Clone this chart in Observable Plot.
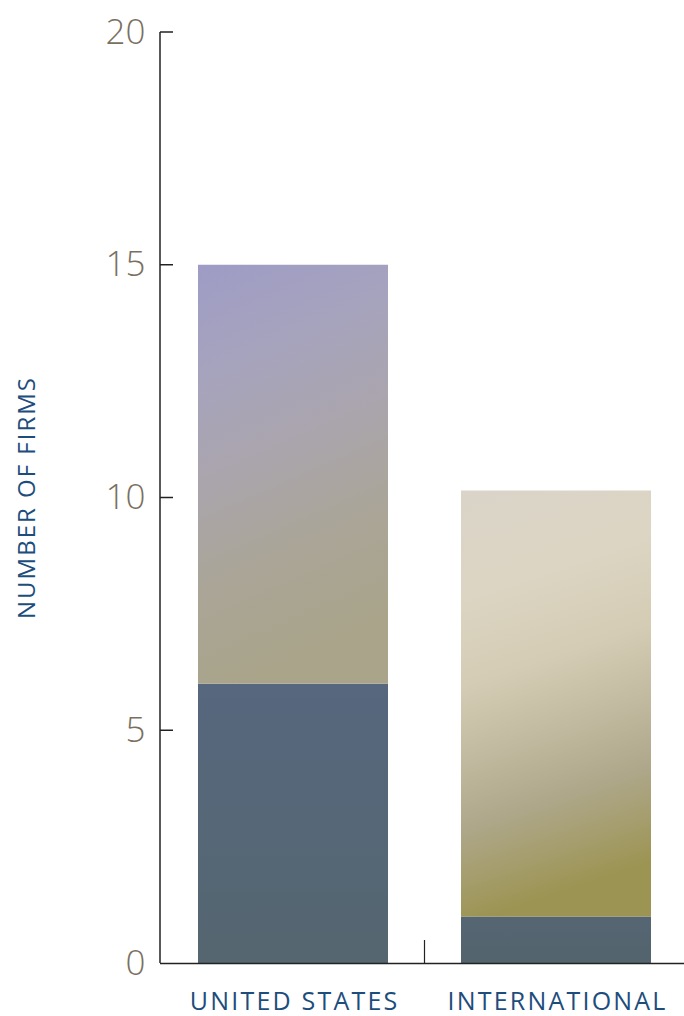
<!DOCTYPE html>
<html>
<head>
<meta charset="utf-8">
<script src="https://cdn.jsdelivr.net/npm/d3@7"></script>
<script src="https://cdn.jsdelivr.net/npm/@observablehq/plot@0.6"></script>
<style>
  html, body { margin: 0; padding: 0; background: #fff; }
  #chart { width: 684px; height: 1016px; }
</style>
</head>
<body>
<div id="chart"></div>
<script>
// ---- data ----
const categories = ["UNITED STATES", "INTERNATIONAL"];
const lowerValues = [6, 1];
const upperValues = [9, 9.15];
const yTicks = [0, 5, 10, 15, 20];
const yLabel = "NUMBER OF FIRMS";

// gradient ids per segment (style only)
const lowerFill = ["url(#gLowUS)", "url(#gLowIntl)"];
const upperFill = ["url(#gUpUS)", "url(#gUpIntl)"];

const rows = [];
categories.forEach((c, i) => {
  rows.push({country: c, segment: "lower", value: lowerValues[i], fill: lowerFill[i]});
  rows.push({country: c, segment: "upper", value: upperValues[i], fill: upperFill[i]});
});

const blue = "#1d4d7c";
const gray = "#7b6f61";

const plot = Plot.plot({
  width: 684,
  height: 1016,
  marginLeft: 160,
  marginRight: 0,
  marginTop: 32,
  marginBottom: 53,
  style: {fontFamily: "'Open Sans', sans-serif", background: "#fff", overflow: "visible"},
  x: {domain: categories, paddingInner: 0.277, paddingOuter: 0.131, align: 0.54, label: null},
  y: {domain: [0, 20], ticks: yTicks, label: null},
  color: {type: "identity"},
  marks: [
    Plot.barY(rows, {x: "country", y: "value", fill: "fill"}),
    Plot.ruleY([0], {stroke: "#222", strokeWidth: 1.5}),
    Plot.axisY({ticks: yTicks, tickSize: 0, tickPadding: 15, fontSize: 35, fill: gray, fontWeight: 300, label: null}),
    Plot.axisX({tickSize: 0, tickPadding: 29, fontSize: 25, fill: blue, label: null})
  ]
});

document.getElementById("chart").appendChild(plot);

// ---- decorations via the plot's scales ----
const svg = d3.select(plot.tagName.toLowerCase() === "svg" ? plot : plot.querySelector("svg"));
const xs = plot.scale("x");
const ys = plot.scale("y");
const y0 = ys.apply(0), yTop = ys.apply(d3.max(yTicks));
const xLeft = 160;

// widen x tick labels like the original geometric sans
svg.selectAll("[aria-label='x-axis tick label'] text")
  .style("letter-spacing", "2.2px").attr("dx", "1.1");

const defs = svg.insert("defs", ":first-child");
function grad(id, x2, y2, stops) {
  const g = defs.append("linearGradient").attr("id", id)
    .attr("x1", 0).attr("y1", 0).attr("x2", x2).attr("y2", y2);
  stops.forEach(([o, c]) => g.append("stop").attr("offset", o).attr("stop-color", c));
}
grad("gUpUS", 0.2, 1, [[0, "#9e9cc5"], [0.25, "#a6a3be"], [0.5, "#aaa5ad"], [0.75, "#aaa597"], [1, "#a9a48a"]]);
grad("gUpIntl", 0.15, 1, [[0, "#dad4c9"], [0.25, "#dcd5c3"], [0.45, "#d4ccb4"], [0.62, "#c1baa0"], [0.78, "#aea78a"], [0.9, "#a59d6c"], [1, "#9c9452"]]);
grad("gLowUS", 0, 1, [[0, "#56677e"], [1, "#556670"]]);
grad("gLowIntl", 0, 1, [[0, "#556572"], [1, "#54646e"]]);

// y axis line
svg.append("line").attr("x1", xLeft).attr("x2", xLeft).attr("y1", yTop).attr("y2", y0)
  .attr("stroke", "#222").attr("stroke-width", 1.5);
// inward y ticks
yTicks.filter(t => t > 0).forEach(t => {
  svg.append("line").attr("x1", xLeft).attr("x2", xLeft + 13)
    .attr("y1", ys.apply(t)).attr("y2", ys.apply(t)).attr("stroke", "#222").attr("stroke-width", 1.5);
});
// divider tick between categories
const xm = (xs.apply(categories[0]) + xs.bandwidth + xs.apply(categories[1])) / 2;
svg.append("line").attr("x1", xm).attr("x2", xm).attr("y1", y0).attr("y2", y0 - 23)
  .attr("stroke", "#222").attr("stroke-width", 1.2);
// y label
svg.append("text").attr("transform", `translate(35, ${(y0 + yTop) / 2}) rotate(-90)`)
  .attr("text-anchor", "middle").attr("fill", blue)
  .style("font-family", "'Open Sans', sans-serif").style("font-size", "24px")
  .style("letter-spacing", "2px")
  .text(yLabel);
</script>
</body>
</html>
